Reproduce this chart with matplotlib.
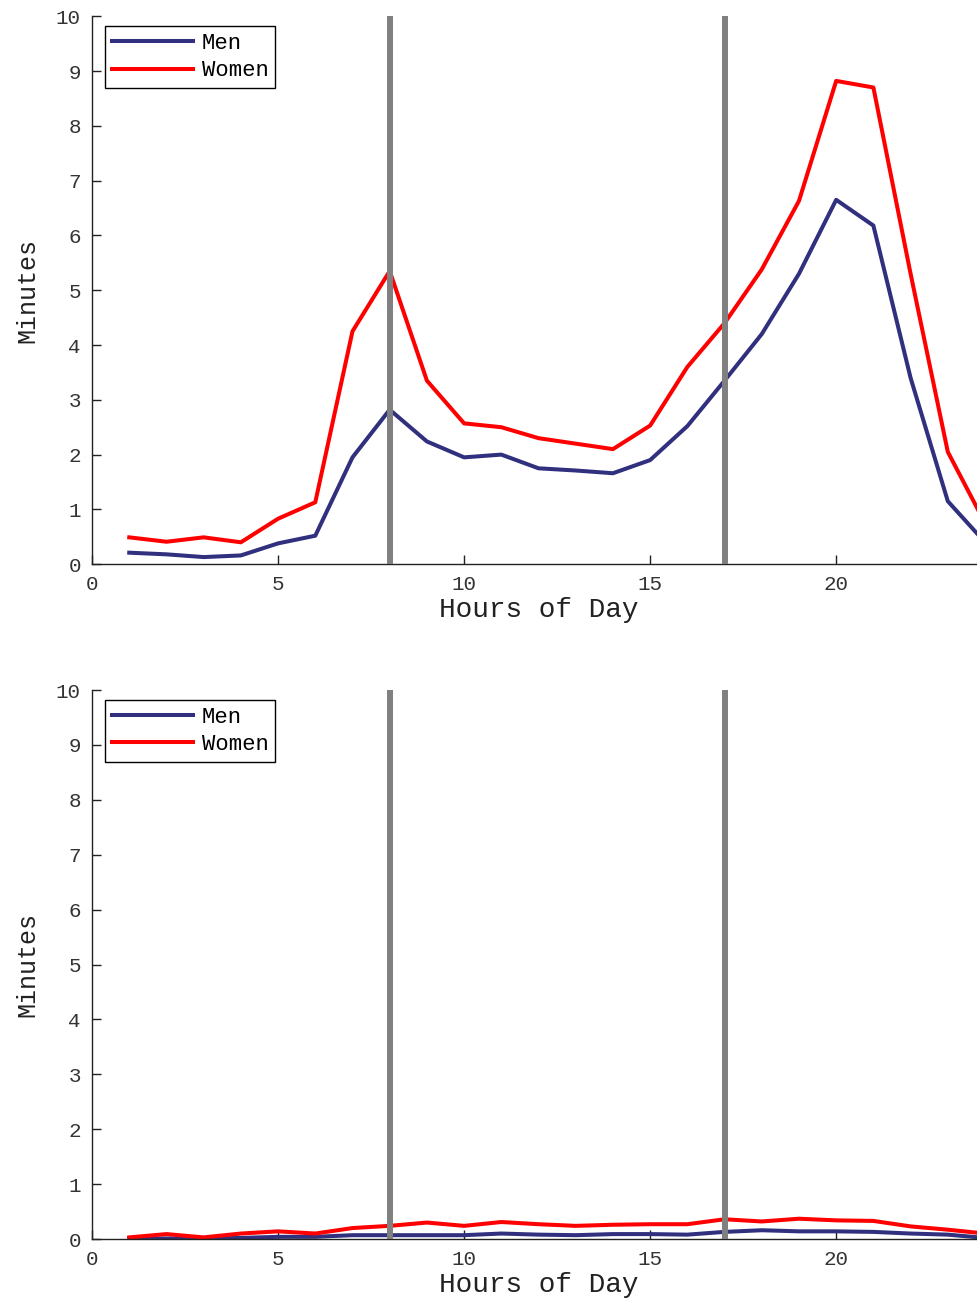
import matplotlib
matplotlib.use('Agg')
import matplotlib.pyplot as plt

plt.rcParams['font.family'] = ['Liberation Mono', 'DejaVu Sans Mono']

hours = list(range(1, 25))

# top panel
men_top = [0.21, 0.18, 0.13, 0.16, 0.38, 0.52, 1.95, 2.82, 2.24, 1.95, 2.0, 1.75,
           1.71, 1.66, 1.9, 2.52, 3.35, 4.2, 5.3, 6.65, 6.18, 3.4, 1.15, 0.4]
women_top = [0.49, 0.41, 0.49, 0.40, 0.83, 1.13, 4.25, 5.35, 3.35, 2.57, 2.5, 2.3,
             2.2, 2.1, 2.53, 3.6, 4.4, 5.38, 6.63, 8.82, 8.7, 5.3, 2.05, 0.75]

# bottom panel
men_bottom = [0.01, 0.01, 0.01, 0.02, 0.04, 0.04, 0.07, 0.07, 0.07, 0.07, 0.10, 0.08,
              0.07, 0.09, 0.09, 0.08, 0.13, 0.16, 0.14, 0.14, 0.13, 0.10, 0.08, 0.02]
women_bottom = [0.03, 0.09, 0.03, 0.10, 0.14, 0.10, 0.20, 0.24, 0.30, 0.24, 0.31, 0.27,
                0.24, 0.26, 0.27, 0.27, 0.36, 0.32, 0.37, 0.34, 0.33, 0.23, 0.17, 0.10]

markers = [8, 17]
xticks = [0, 5, 10, 15, 20]
yticks = list(range(0, 11))

men_color = '#30307f'
women_color = '#ff0000'

fig = plt.figure(figsize=(9.77, 13.0), dpi=100)
ax1 = fig.add_axes([0.0942, 0.566, 0.914, 0.4215])
ax2 = fig.add_axes([0.0942, 0.0469, 0.914, 0.4223])


def panel(ax, men, women):
    ax.plot(hours, men, color=men_color, lw=2.9, label='Men')
    ax.plot(hours, women, color=women_color, lw=2.9, label='Women')
    for m in markers:
        ax.axvline(m, color='#808080', lw=4.3, zorder=5)
    ax.set_xlim(0, 24)
    ax.set_ylim(0, 10)
    ax.set_xticks(xticks)
    ax.set_yticks(yticks)
    ax.spines['top'].set_visible(False)
    ax.spines['right'].set_visible(False)
    for s in ['left', 'bottom']:
        ax.spines[s].set_color('#222222')
        ax.spines[s].set_linewidth(1.0)
    ax.tick_params(direction='in', length=6.5, width=1, labelsize=15,
                   colors='#222222', labelcolor='#333333', pad=8)
    ax.set_xlabel('Hours of Day', fontsize=20, color='#222222', labelpad=2)
    ax.set_ylabel('Minutes', fontsize=18, color='#222222', labelpad=12)
    leg = ax.legend(loc='upper left', bbox_to_anchor=(0.0146, 0.982), borderaxespad=0,
                    fontsize=16, handlelength=3.65, handletextpad=0.4,
                    fancybox=False, framealpha=1, labelspacing=0.3,
                    borderpad=0.3)
    leg.get_frame().set_edgecolor('black')
    leg.get_frame().set_linewidth(1.0)


panel(ax1, men_top, women_top)
panel(ax2, men_bottom, women_bottom)

fig.savefig('out.png', dpi=100)
